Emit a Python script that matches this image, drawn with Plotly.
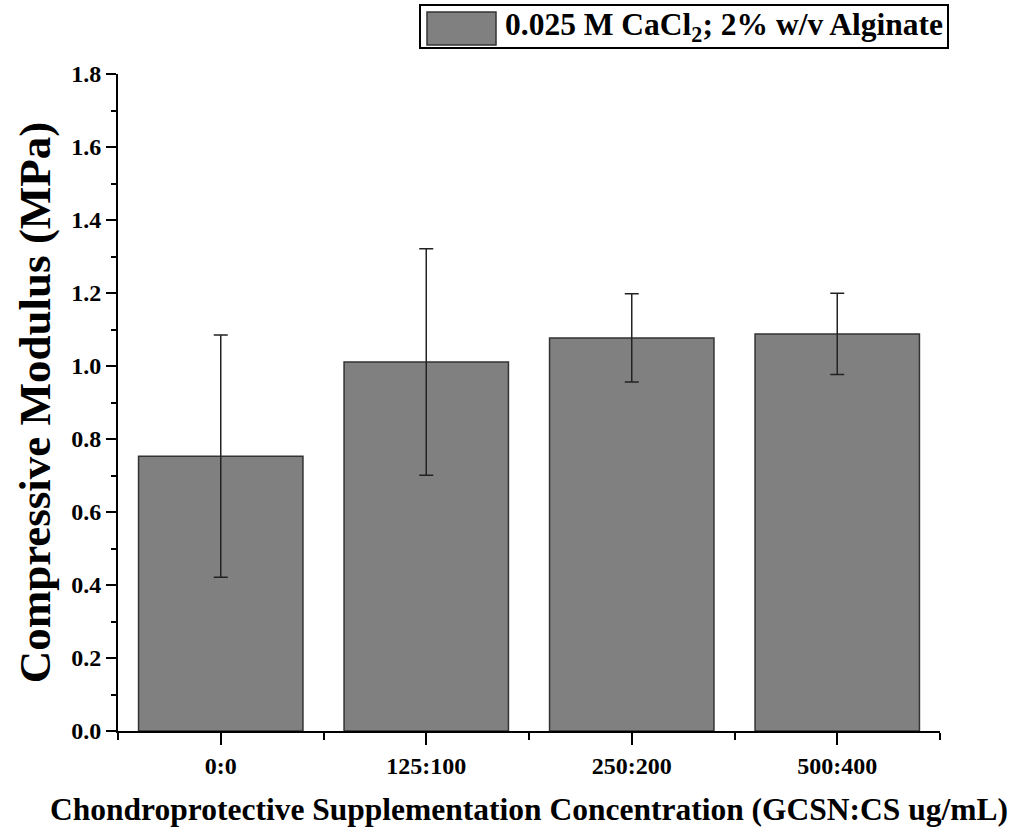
import plotly.graph_objects as go

categories = ["0:0", "125:100", "250:200", "500:400"]
modulus = [0.753, 1.011, 1.077, 1.088]
errors = [0.332, 0.310, 0.121, 0.111]
series_name = "0.025 M CaCl<sub>2</sub>; 2% w/v Alginate"
yticks = [0, 0.2, 0.4, 0.6, 0.8, 1.0, 1.2, 1.4, 1.6, 1.8]

font_family = "Liberation Serif"
W, H = 1030, 832
L, R, T, B = 118, 90, 74, 101
pw, ph = W - L - R, H - T - B


def px_x(x):
    return (x - L) / pw


def px_y(y):
    return (H - B - y) / ph


fig = go.Figure()
fig.add_trace(go.Bar(
    x=list(range(len(categories))),
    y=modulus,
    name=series_name,
    width=0.8,
    marker=dict(color="#808080", line=dict(color="#333333", width=1.5)),
    error_y=dict(type="data", array=errors, visible=True, color="#222222", thickness=1.5, width=7),
    showlegend=False,
))

# legend drawn manually (Origin-style wide swatch)
fig.add_shape(type="rect", xref="paper", yref="paper",
              x0=px_x(420), x1=px_x(948), y0=px_y(48), y1=px_y(5),
              line=dict(color="black", width=2), fillcolor="white")
fig.add_shape(type="rect", xref="paper", yref="paper",
              x0=px_x(427), x1=px_x(496), y0=px_y(45), y1=px_y(12),
              line=dict(color="#333333", width=1.5), fillcolor="#808080")
fig.add_annotation(xref="paper", yref="paper", x=px_x(503), y=px_y(27),
                   xanchor="left", yanchor="middle", showarrow=False,
                   text="<b>" + series_name + "</b>",
                   font=dict(family=font_family, size=31.5, color="black"))

fig.update_layout(
    width=W, height=H,
    margin=dict(l=L, r=R, t=T, b=B),
    paper_bgcolor="white", plot_bgcolor="white",
    font=dict(family=font_family, color="black"),
    xaxis=dict(
        range=[-0.5, 3.5],
        tickmode="array",
        tickvals=list(range(len(categories))),
        ticktext=[f"<b>{c}</b>" for c in categories],
        ticks="outside", ticklen=12, tickwidth=2, tickcolor="black",
        showline=True, linecolor="black", linewidth=2,
        showgrid=False, zeroline=False,
        tickfont=dict(size=24, family=font_family),
        minor=dict(tickmode="array", tickvals=[-0.5, 0.5, 1.5, 2.5, 3.5], ticks="outside", ticklen=7, tickwidth=2, tickcolor="black"),
        title=dict(text="<b>Chondroprotective Supplementation Concentration (GCSN:CS ug/mL)</b>",
                   font=dict(size=31.5, family=font_family), standoff=20),
    ),
    yaxis=dict(
        range=[0, 1.8],
        tickmode="array",
        tickvals=yticks,
        ticktext=["<b>%.1f</b>" % v for v in yticks],
        ticks="outside", ticklen=10, tickwidth=2, tickcolor="black",
        showline=True, linecolor="black", linewidth=2,
        showgrid=False, zeroline=False,
        tickfont=dict(size=24, family=font_family),
        minor=dict(dtick=0.1, ticks="outside", ticklen=5, tickwidth=2, tickcolor="black"),
        title=dict(text="<b>Compressive Modulus (MPa)</b>", font=dict(size=45, family=font_family), standoff=6),
    ),
)

fig.write_html("out.html")
